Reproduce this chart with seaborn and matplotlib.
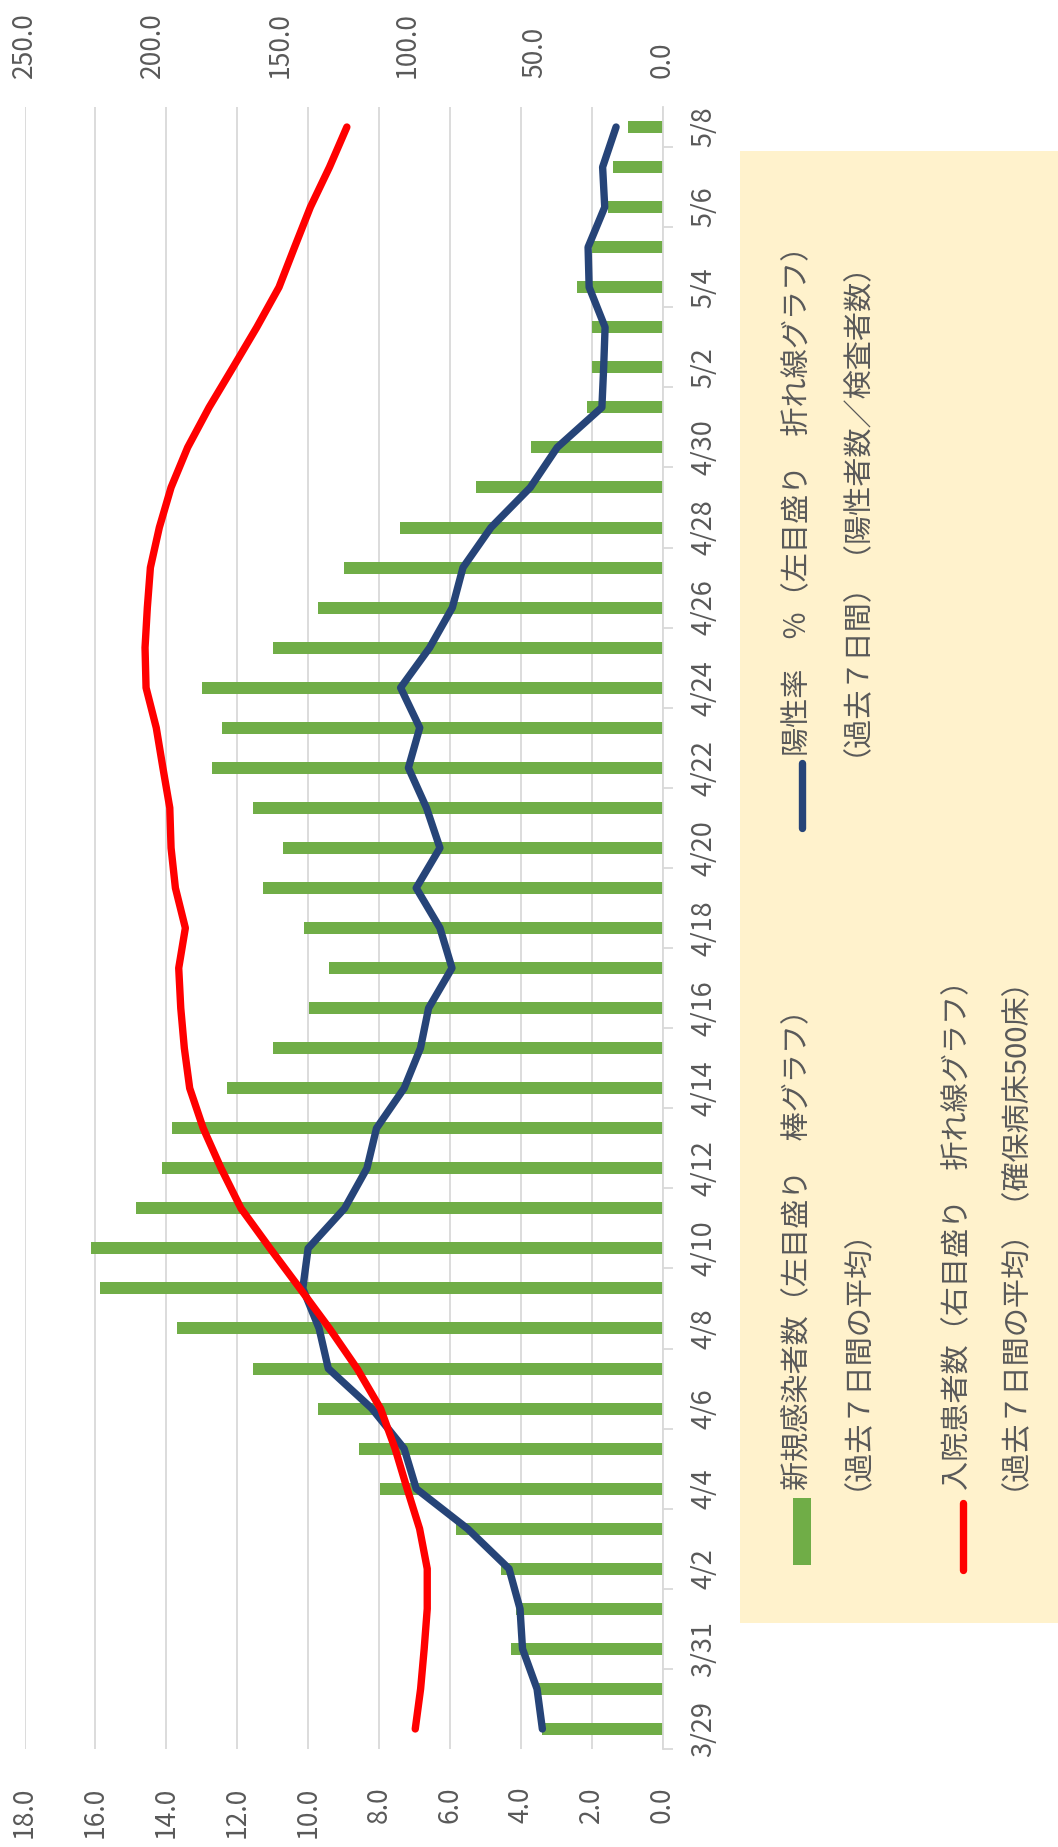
import numpy as np
import pandas as pd
import matplotlib
matplotlib.use("Agg")
import matplotlib.pyplot as plt
from matplotlib.patches import Rectangle
from matplotlib.lines import Line2D
from matplotlib.ticker import FormatStrFormatter
import seaborn as sns

# ---------------- data ----------------
dates = ["3/29", "3/30", "3/31", "4/1", "4/2", "4/3", "4/4", "4/5", "4/6", "4/7",
         "4/8", "4/9", "4/10", "4/11", "4/12", "4/13", "4/14", "4/15", "4/16", "4/17",
         "4/18", "4/19", "4/20", "4/21", "4/22", "4/23", "4/24", "4/25", "4/26", "4/27",
         "4/28", "4/29", "4/30", "5/1", "5/2", "5/3", "5/4", "5/5", "5/6", "5/7", "5/8"]

new_cases = [3.41, 3.48, 4.27, 4.12, 4.56, 5.84, 7.98, 8.56, 9.72,
             11.56, 13.70, 15.86, 16.12, 14.85, 14.13, 13.84, 12.28, 10.98, 9.97, 9.42,
             10.13, 11.28, 10.72, 11.56, 12.71, 12.43, 13.00, 10.98, 9.72, 8.99, 7.42,
             5.26, 3.70, 2.13, 1.98, 1.98, 2.41, 1.98, 1.55, 1.41, 0.97]

positive_rate = [3.39, 3.54, 3.95, 4.02, 4.33, 5.50, 6.95, 7.29, 8.20,
                 9.43, 9.69, 10.15, 10.00, 8.97, 8.34, 8.07, 7.29, 6.83, 6.60, 5.94,
                 6.28, 6.95, 6.28, 6.66, 7.17, 6.85, 7.39, 6.57, 5.93, 5.63,
                 4.84, 3.73, 2.97, 1.71, 1.66, 1.62, 2.07, 2.10, 1.63, 1.69, 1.31]

hospitalized = [96.9, 94.8, 93.4, 92.2, 92.2, 95.2, 100.1, 104.8, 110.5,
                119.7, 130.5, 142.1, 153.8, 165.2, 173.0, 180.0, 185.3, 187.4, 188.8, 189.6,
                187.0, 190.9, 192.6, 193.1, 195.8, 198.4, 202.4, 202.8, 201.9, 200.7, 197.2,
                192.6, 186.1, 177.7, 168.3, 159.0, 150.3, 144.2, 138.0, 130.5, 123.7]

left_ticks = [0, 2, 4, 6, 8, 10, 12, 14, 16, 18]
right_ticks = [0, 50, 100, 150, 200, 250]

legend_lines = {
    "bar": ["新規感染者数（左目盛り　棒グラフ）", "（過去７日間の平均）"],
    "hosp": ["入院患者数（右目盛り　折れ線グラフ）", "（過去７日間の平均）（確保病床500床）"],
    "rate": ["陽性率　％（左目盛り　折れ線グラフ）", "（過去７日間）（陽性者数／検査者数）"],
}

# ---------------- style ----------------
sns.set_style("white")
plt.rcParams["font.family"] = ["Noto Sans CJK JP", "DejaVu Sans"]

GREEN = "#70AD47"
BLUE = "#264478"
RED = "#FF0000"
GRID = "#D9D9D9"
TXT = "#595959"

W, H = 1058, 1847
fig = plt.figure(figsize=(W / 100, H / 100), dpi=100)

def fx(px):
    return px / W

def fy(py):
    return 1 - py / H

ax_left, ax_right, ax_top, ax_bot = 24.6, 662.5, 107, 1749
ax = fig.add_axes([fx(ax_left), fy(ax_bot), fx(ax_right - ax_left), (ax_bot - ax_top) / H])

df = pd.DataFrame({"date": dates, "new": new_cases, "rate": positive_rate, "hosp": hospitalized})

sns.barplot(data=df, y="date", x="new", orient="h", color=GREEN, saturation=1,
            width=0.3, ax=ax, zorder=2, linewidth=0)
sns.lineplot(data=df, x="rate", y="date", orient="y", sort=False, estimator=None,
             color=BLUE, lw=5.3, ax=ax, zorder=4, solid_capstyle="round")

ax2 = ax.twiny()
sns.lineplot(data=df, x="hosp", y="date", orient="y", sort=False, estimator=None,
             color=RED, lw=5.3, ax=ax2, zorder=5, solid_capstyle="round")

# ---------------- axes ----------------
ax.set_xlim(18, 0)
ax2.set_xlim(250, 0)
ax.set_ylim(-0.5, len(dates) - 0.5)

for a in (ax, ax2):
    a.set_xlabel("")
    a.set_ylabel("")
    for s in a.spines.values():
        s.set_visible(False)

ax.spines["right"].set_visible(True)
ax.spines["right"].set_color(GRID)
ax.spines["right"].set_linewidth(1.3)

ax.set_xticks(left_ticks)
ax.xaxis.set_major_formatter(FormatStrFormatter("%.1f"))
ax.grid(axis="x", color=GRID, lw=1.3)
ax.grid(axis="y", visible=False)
ax.set_axisbelow(True)
ax.tick_params(axis="x", which="both", bottom=True, top=False, length=0, pad=27,
               labelrotation=90, labelsize=19, labelcolor=TXT)

ax2.set_xticks(right_ticks)
ax2.xaxis.set_major_formatter(FormatStrFormatter("%.1f"))
ax2.grid(False)
ax2.tick_params(axis="x", length=0, pad=21, labelrotation=90, labelsize=19, labelcolor=TXT)

ax.yaxis.tick_right()
ax.set_yticks(list(range(0, len(dates), 2)))
ax.set_yticklabels(dates[::2])
ax.set_yticks(np.arange(-0.5, len(dates) - 1, 2), minor=True)
ax.tick_params(axis="y", which="major", left=False, right=True, length=0, pad=20,
               labelrotation=90, labelsize=19.5, labelcolor=TXT)
ax.tick_params(axis="y", which="minor", left=False, right=True, length=7.5, width=1.3,
               color=GRID)
for lbl in ax.get_yticklabels():
    lbl.set_va("center")

# ---------------- legend (rotated, drawn in figure coords) ----------------
fig.add_artist(Rectangle((fx(740), fy(1623)), fx(W - 740), (1623 - 151) / H,
                         transform=fig.transFigure, facecolor="#FFF2CC",
                         edgecolor="none", zorder=0))
fig.add_artist(Rectangle((fx(793), fy(1565)), fx(18), 67 / H,
                         transform=fig.transFigure, facecolor=GREEN,
                         edgecolor="none", zorder=3))
fig.add_artist(Line2D([fx(963), fx(963)], [fy(1503), fy(1570)], transform=fig.transFigure,
                      color=RED, lw=5.3, solid_capstyle="round", zorder=3))
fig.add_artist(Line2D([fx(802), fx(802)], [fy(763), fy(828)], transform=fig.transFigure,
                      color=BLUE, lw=5.3, solid_capstyle="round", zorder=3))

LEG_FS = 21
def legend_text(x, y, s):
    fig.text(fx(x), fy(y), s, rotation=90, ha="center", va="bottom",
             fontsize=LEG_FS, color=TXT, zorder=4)

legend_text(798, 1490, legend_lines["bar"][0])
legend_text(842, 1490, legend_lines["bar"][1])
legend_text(958, 1490, legend_lines["hosp"][0])
legend_text(999, 1490, legend_lines["hosp"][1])
legend_text(798, 756, legend_lines["rate"][0])
legend_text(841, 756, legend_lines["rate"][1])

fig.savefig("out.png", dpi=100, facecolor="white")
